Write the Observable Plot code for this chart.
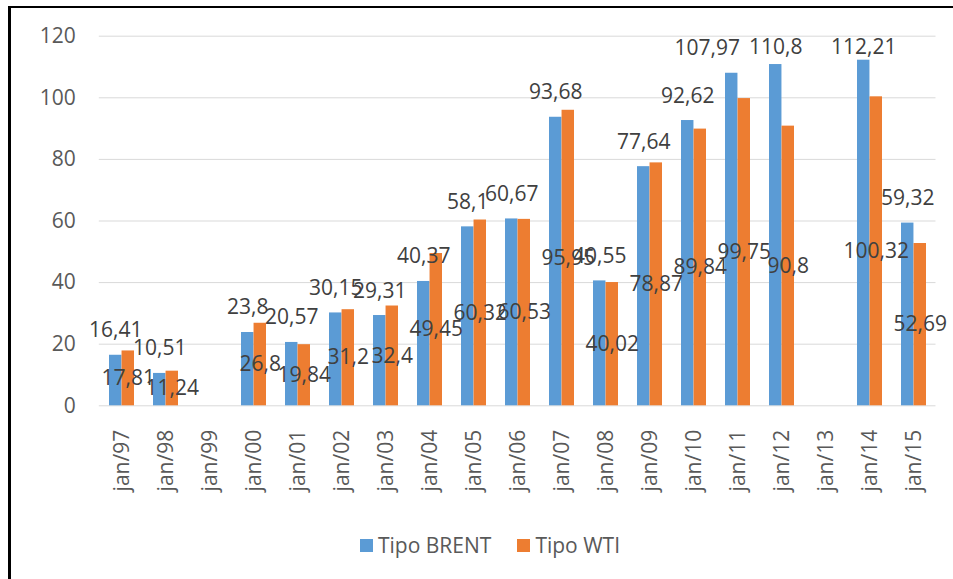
<!DOCTYPE html>
<html>
<head>
<meta charset="utf-8">
<script src="https://cdn.jsdelivr.net/npm/d3@7"></script>
<script src="https://cdn.jsdelivr.net/npm/@observablehq/plot@0.6"></script>
<style>
  html, body { margin: 0; padding: 0; background: #fff; }
  body { width: 953px; height: 579px; position: relative; overflow: hidden; font-family: "Open Sans", sans-serif; }
  #frame { position: absolute; left: 8px; top: 6px; right: -10px; bottom: -10px; border-left: 3px solid #000; border-top: 2.5px solid #000; pointer-events: none; }
  #chart { position: absolute; left: 0; top: 0; }
  #legend { position: absolute; left: 360px; top: 531px; display: flex; align-items: center; font-size: 21px; color: #595959; }
  #legend .item { display: flex; align-items: center; margin-right: 26px; }
  #legend .sw { width: 13px; height: 13px; margin-right: 5px; }
</style>
</head>
<body>
<div id="chart"></div>
<div id="legend"></div>
<div id="frame"></div>
<script>
const categories = ["jan/97","jan/98","jan/99","jan/00","jan/01","jan/02","jan/03","jan/04","jan/05","jan/06","jan/07","jan/08","jan/09","jan/10","jan/11","jan/12","jan/13","jan/14","jan/15"];
const brent = [16.41, 10.51, null, 23.8, 20.57, 30.15, 29.31, 40.37, 58.1, 60.67, 93.68, 40.55, 77.64, 92.62, 107.97, 110.8, null, 112.21, 59.32];
const wti   = [17.81, 11.24, null, 26.8, 19.84, 31.2, 32.4, 49.45, 60.32, 60.53, 95.95, 40.02, 78.87, 89.84, 99.75, 90.8, null, 100.32, 52.69];
const seriesNames = ["Tipo BRENT", "Tipo WTI"];
const seriesColors = ["#5B9BD5", "#ED7D31"];
const yTicks = [0, 20, 40, 60, 80, 100, 120];

const fmt = v => String(v).replace(".", ",");

const W = 953, H = 579;
const mL = 98.8, mR = 17.5, mT = 35.7, mB = H - 405.3;
const pIn = 0.43, pOut = 0.215;
const FONT = 21;
// keep outside-end labels inside the plot area (as the spreadsheet does)
const labelCap = 108.5;
const labelLift = 18;

// helper scales mirroring Plot's, used only to resolve collisions of labels pushed under the ceiling
const xs = d3.scaleBand(categories, [mL, W - mR]).paddingInner(pIn).paddingOuter(pOut).align(0.5);
const bw = xs.bandwidth();
const half = bw / 2;
const ctx = document.createElement("canvas").getContext("2d");
ctx.font = `${FONT}px "Open Sans"`;

const rows = categories.map((c, i) => ({cat: c, brent: brent[i], wti: wti[i], shift: 0}));
const bRows = rows.filter(d => d.brent != null);
const wRows = rows.filter(d => d.wti != null);
const capped = d => d.brent >= labelCap - 1;

// shift a capped BRENT label left when it collides with the next capped one
for (let k = bRows.length - 2; k >= 0; k--) {
  const a = bRows[k], b = bRows[k + 1];
  if (!capped(a) || !capped(b)) continue;
  const ax = xs(a.cat) + half / 2 - a.shift, bx = xs(b.cat) + half / 2 - b.shift;
  const aw = ctx.measureText(fmt(a.brent)).width, bwid = ctx.measureText(fmt(b.brent)).width;
  const gap = (bx - bwid / 2) - (ax + aw / 2);
  if (gap < 9) a.shift += 9 - gap;
}
const shiftGroups = d3.groups(bRows, d => d.shift);

const plot = Plot.plot({
  width: W,
  height: H,
  marginLeft: mL,
  marginRight: mR,
  marginTop: mT,
  marginBottom: mB,
  style: {fontFamily: "Open Sans, sans-serif", fontSize: FONT + "px", color: "#595959", background: "transparent", overflow: "visible"},
  x: {type: "band", domain: categories, paddingInner: pIn, paddingOuter: pOut, align: 0.5, label: null},
  y: {domain: [0, 120], label: null},
  marks: [
    Plot.ruleY(yTicks, {stroke: "#D9D9D9", strokeWidth: 1}),
    Plot.barY(bRows, {x: "cat", y: "brent", fill: seriesColors[0], insetRight: half}),
    Plot.barY(wRows, {x: "cat", y: "wti", fill: seriesColors[1], insetLeft: half}),
    Plot.axisY({ticks: yTicks, tickSize: 0, tickPadding: 23.5, tickFormat: d => d, fill: "#595959", fontSize: FONT}),
    Plot.axisX({tickSize: 0, tickPadding: 24, tickRotate: -90, fill: "#595959", fontSize: FONT}),
    ...shiftGroups.map(([s, g]) =>
      Plot.text(g, {x: "cat", y: d => Math.min(d.brent, labelCap), text: d => fmt(d.brent), dx: -half / 2 - s, dy: -labelLift, lineAnchor: "bottom", fill: "#404040", fontSize: FONT})
    ),
    Plot.text(wRows, {x: "cat", y: d => d.wti / 2, text: d => fmt(d.wti), dx: half / 2, lineAnchor: "middle", fill: "#404040", fontSize: FONT})
  ]
});
document.getElementById("chart").appendChild(plot);

const legend = document.getElementById("legend");
seriesNames.forEach((name, i) => {
  const item = document.createElement("div");
  item.className = "item";
  const sw = document.createElement("div");
  sw.className = "sw";
  sw.style.background = seriesColors[i];
  const label = document.createElement("span");
  label.textContent = name;
  item.appendChild(sw);
  item.appendChild(label);
  legend.appendChild(item);
});
</script>
</body>
</html>
